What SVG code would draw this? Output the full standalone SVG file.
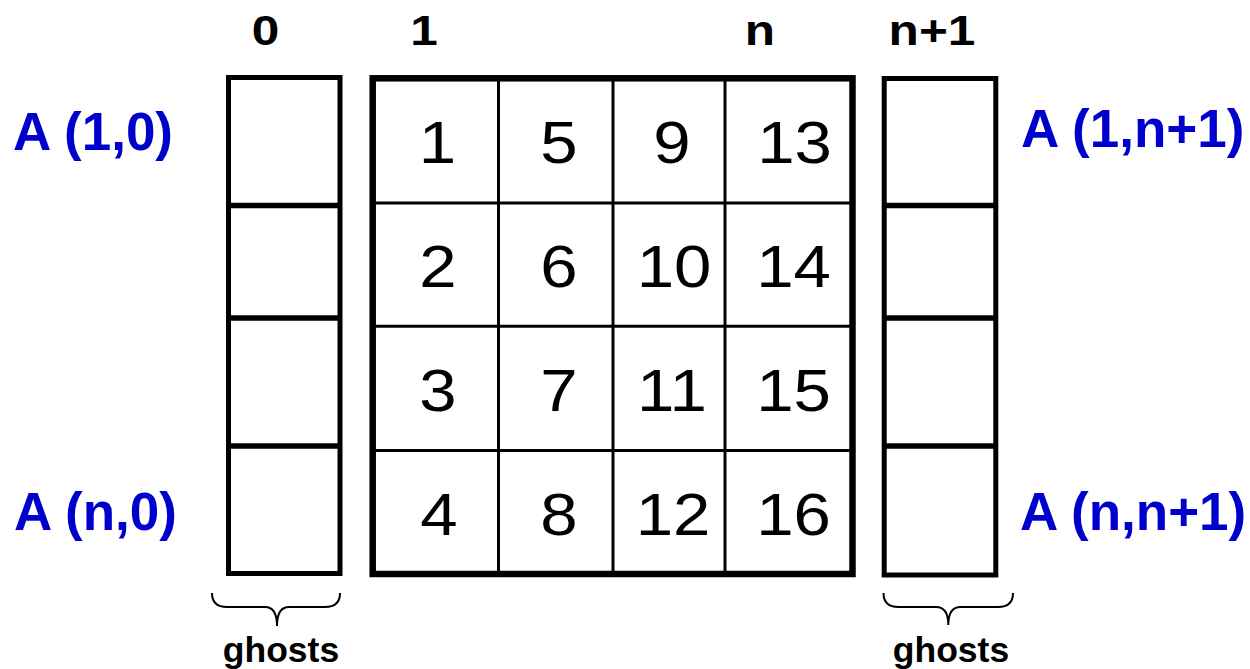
<svg xmlns="http://www.w3.org/2000/svg" width="1250" height="669" viewBox="0 0 1250 669">
<style>
.bg{fill:#ffffff}
.ghost{fill:none;stroke:#000;stroke-width:5}
.div{stroke:#000;stroke-width:5.5}
.outer{fill:none;stroke:#000;stroke-width:6.5}
.inner{stroke:#000;stroke-width:3}
.num{font-family:"Liberation Sans",Arial,sans-serif;font-size:60px;fill:#000;text-anchor:middle}
.hdr{font-family:"Liberation Sans",Arial,sans-serif;font-size:42px;font-weight:bold;fill:#000;text-anchor:middle}
.lbl{font-family:"Liberation Sans",Arial,sans-serif;font-size:53px;font-weight:bold;fill:#0000CC}
.gh{font-family:"Liberation Sans",Arial,sans-serif;font-size:35.5px;font-weight:bold;fill:#000;text-anchor:middle}
.brace{fill:none;stroke:#000;stroke-width:2}
</style>
<rect class="bg" x="0" y="0" width="1250" height="669"/>

<g id="headers">
<text class="hdr" transform="translate(265.5,45) scale(1.18,1)">0</text>
<text class="hdr" transform="translate(424,45) scale(1.18,1)">1</text>
<text class="hdr" transform="translate(760,45) scale(1.18,1)">n</text>
<text class="hdr" transform="translate(932,45) scale(1.18,1)">n+1</text>
</g>

<g id="labels">
<text class="lbl" x="13" y="150">A (1,0)</text>
<text class="lbl" x="14" y="530">A (n,0)</text>
<text class="lbl" x="1021" y="147">A (1,n+1)</text>
<text class="lbl" x="1020" y="530">A (n,n+1)</text>
</g>

<g id="ghost-left">
<rect class="ghost" x="228.5" y="77.5" width="111.5" height="496"/>
<line class="div" x1="228.5" y1="205.5" x2="340" y2="205.5"/>
<line class="div" x1="228.5" y1="318" x2="340" y2="318"/>
<line class="div" x1="228.5" y1="446" x2="340" y2="446"/>
</g>

<g id="ghost-right">
<rect class="ghost" x="884.2" y="78.5" width="111.6" height="496.5"/>
<line class="div" x1="884.2" y1="205.5" x2="995.8" y2="205.5"/>
<line class="div" x1="884.2" y1="318" x2="995.8" y2="318"/>
<line class="div" x1="884.2" y1="446" x2="995.8" y2="446"/>
</g>

<g id="grid">
<line class="inner" x1="498.5" y1="78" x2="498.5" y2="574"/>
<line class="inner" x1="613" y1="78" x2="613" y2="574"/>
<line class="inner" x1="725" y1="78" x2="725" y2="574"/>
<line class="inner" x1="372" y1="203" x2="852" y2="203"/>
<line class="inner" x1="372" y1="326.3" x2="852" y2="326.3"/>
<line class="inner" x1="372" y1="450.4" x2="852" y2="450.4"/>
<rect class="outer" x="372.7" y="78.3" width="479.8" height="495.7"/>
<text class="num" transform="translate(437.5,163) scale(1.12,1)">1</text>
<text class="num" transform="translate(559,163) scale(1.12,1)">5</text>
<text class="num" transform="translate(672,163) scale(1.12,1)">9</text>
<text class="num" transform="translate(794.5,163) scale(1.12,1)">13</text>
<text class="num" transform="translate(438,287) scale(1.12,1)">2</text>
<text class="num" transform="translate(559,287) scale(1.12,1)">6</text>
<text class="num" transform="translate(674,287) scale(1.12,1)">10</text>
<text class="num" transform="translate(793.5,287) scale(1.12,1)">14</text>
<text class="num" transform="translate(438,411) scale(1.12,1)">3</text>
<text class="num" transform="translate(559,411) scale(1.12,1)">7</text>
<text class="num" transform="translate(672,411) scale(1.12,1)">11</text>
<text class="num" transform="translate(793.5,411) scale(1.12,1)">15</text>
<text class="num" transform="translate(439,535) scale(1.12,1)">4</text>
<text class="num" transform="translate(559,535) scale(1.12,1)">8</text>
<text class="num" transform="translate(673,535) scale(1.12,1)">12</text>
<text class="num" transform="translate(793.5,535) scale(1.12,1)">16</text>
</g>

<g id="connectors">
<path class="brace" d="M212,593 Q212,607 227,607 L265,607 Q277,607 277,626 Q277,607 289,607 L325,607 Q340,607 340,593"/>
<path class="brace" d="M883.5,593 Q883.5,607 898.5,607 L936,607 Q948.3,607 948.3,625 Q948.3,607 960.5,607 L998,607 Q1013,607 1013,593"/>
</g>

<g id="ghost-captions">
<text class="gh" x="281" y="661.5">ghosts</text>
<text class="gh" x="951" y="661.5">ghosts</text>
</g>
</svg>
